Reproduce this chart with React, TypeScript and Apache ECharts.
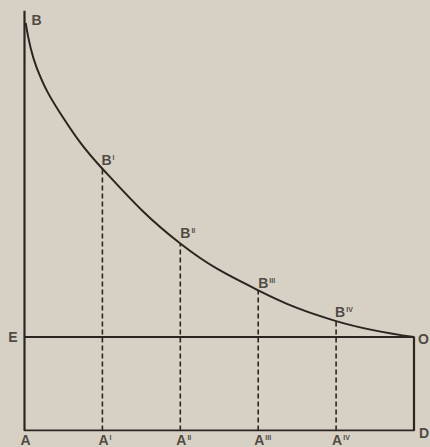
import React, { useEffect, useRef } from "react";
import * as echarts from "echarts";

// Curve B → O (x: A=0 … D=5, y: AE = 1)
const curveX = [0.015, 0.157, 0.478, 1.0, 2.0, 3.0, 4.0, 5.0];
const curveY = [4.36, 3.88, 3.37, 2.8, 2.0, 1.5, 1.17, 1.0];

// Dashed ordinates A'B' … A''''B''''
const dropX = [1, 2, 3, 4];
const dropY = [2.8, 2.0, 1.5, 1.17];
const dropSup = ["I", "II", "III", "IV"];

// Frame: top of AB, height of E/O, width AD
const axisTop = 4.49;
const eHeight = 1;
const dWidth = 5;

// Base labels
const baseX = [0, 1, 2, 3, 4];
const baseSup = ["", "I", "II", "III", "IV"];

const INK = "#2a2520";
const BG = "#d7d0c4";
const FONT = "Liberation Sans";

const rich = {
  m: { fontSize: 14, fontWeight: "bold", fontFamily: FONT, color: INK, lineHeight: 12 },
  s: { fontSize: 7, fontWeight: "bold", fontFamily: FONT, color: INK, lineHeight: 7, verticalAlign: "top", padding: [0, 0, 0, 1] },
};

function lbl(main: string, sup: string) {
  return sup ? `{m|${main}}{s|${sup}}` : `{m|${main}}`;
}

export default function App() {
  const ref = useRef<HTMLDivElement>(null);
  useEffect(() => {
    if (!ref.current) return;
    const chart = echarts.init(ref.current, undefined, { renderer: "svg" });

    const dashSeries = dropX.map((x, i) => ({
      type: "line",
      data: [[x, 0], [x, dropY[i]]],
      symbol: "none",
      lineStyle: { color: INK, width: 1.6, type: [5, 3] },
      z: 2,
    }));

    const labelPoints: any[] = [];
    labelPoints.push({ value: [0, axisTop], text: lbl("B", ""), offset: [7, 9], align: "left" });
    const bOffsets = [[-1, -9], [0, -11], [0, -7], [-1, -9]];
    dropX.forEach((x, i) => {
      labelPoints.push({ value: [x, dropY[i]], text: lbl("B", dropSup[i]), offset: bOffsets[i], align: "left" });
    });
    labelPoints.push({ value: [0, eHeight], text: lbl("E", ""), offset: [-7, 0], align: "right" });
    labelPoints.push({ value: [dWidth, eHeight], text: lbl("O", ""), offset: [4, 2], align: "left" });
    labelPoints.push({ value: [dWidth, 0], text: lbl("D", ""), offset: [5, 2], align: "left" });
    baseX.forEach((x, i) => {
      labelPoints.push({ value: [x, 0], text: lbl("A", baseSup[i]), offset: [-4, 9.5], align: "left" });
    });

    chart.setOption({
      animation: false,
      backgroundColor: BG,
      grid: { left: 24.5, right: 16, top: 0.5, bottom: 16.5 },
      xAxis: { type: "value", min: 0, max: 5, show: false },
      yAxis: { type: "value", min: 0, max: 4.6, show: false },
      series: [
        {
          type: "line",
          data: [[0, axisTop], [0, 0], [dWidth, 0], [dWidth, eHeight], [0, eHeight]],
          symbol: "none",
          lineStyle: { color: INK, width: 2.2 },
          z: 3,
        },
        {
          type: "line",
          data: curveX.map((x, i) => [x, curveY[i]]),
          symbol: "none",
          smooth: 0.4,
          lineStyle: { color: INK, width: 2 },
          z: 3,
        },
        ...dashSeries,
        {
          type: "scatter",
          symbolSize: 0,
          silent: true,
          data: labelPoints.map((p) => ({
            value: p.value,
            label: {
              show: true,
              position: "inside",
              align: p.align,
              verticalAlign: "middle",
              offset: p.offset,
              formatter: p.text,
              rich,
            },
          })),
          z: 5,
        },
      ],
    });
    return () => chart.dispose();
  }, []);

  return (
    <div
      ref={ref}
      style={{ position: "absolute", left: 0, top: 0, width: 430, height: 447, background: BG }}
    />
  );
}
